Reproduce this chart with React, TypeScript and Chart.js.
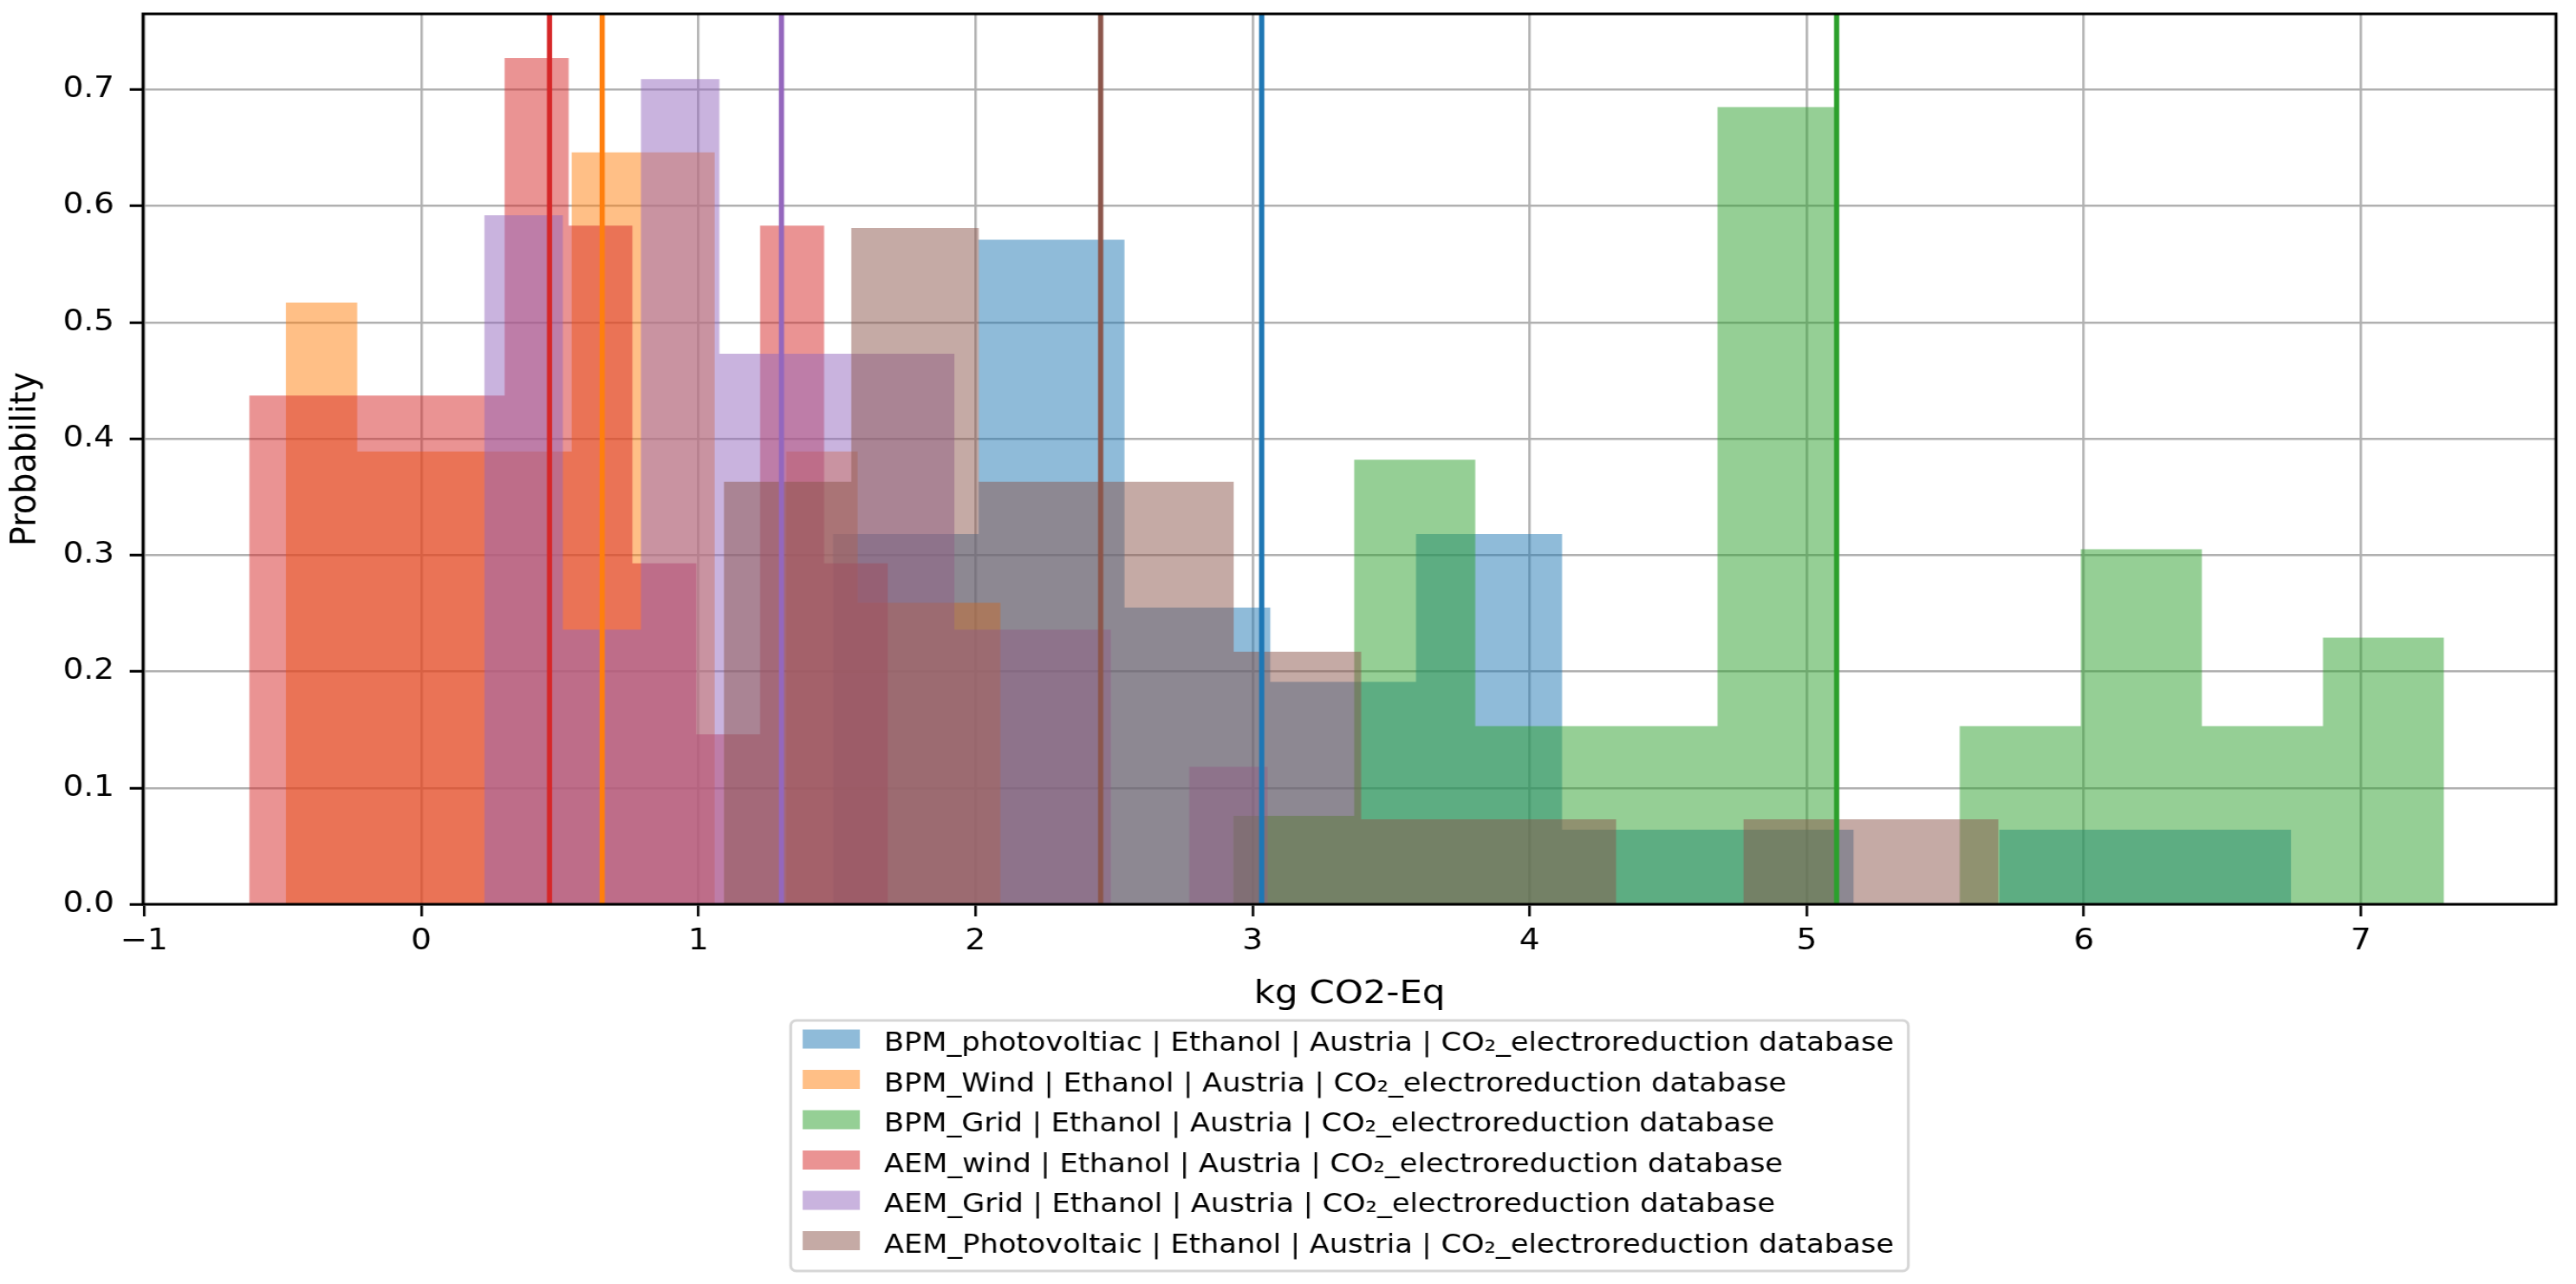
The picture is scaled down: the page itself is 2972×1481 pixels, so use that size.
import { useEffect, useRef } from 'react';
import { Chart, registerables } from 'chart.js';

Chart.register(...registerables);

// ---------- data ----------
const SERIES_LABELS = [
  'BPM_photovoltiac | Ethanol | Austria | CO\u2082_electroreduction database',
  'BPM_Wind | Ethanol | Austria | CO\u2082_electroreduction database',
  'BPM_Grid | Ethanol | Austria | CO\u2082_electroreduction database',
  'AEM_wind | Ethanol | Austria | CO\u2082_electroreduction database',
  'AEM_Grid | Ethanol | Austria | CO\u2082_electroreduction database',
  'AEM_Photovoltaic | Ethanol | Austria | CO\u2082_electroreduction database',
];
const SERIES_COLORS = ['#1f77b4', '#ff7f0e', '#2ca02c', '#d62728', '#9467bd', '#8c564b'];

const BPM_PV_EDGES = [1.485, 2.011, 2.538, 3.064, 3.590, 4.117, 4.643, 5.169, 5.695, 6.222, 6.748];
const BPM_PV_HEIGHTS = [0.318, 0.571, 0.255, 0.191, 0.318, 0.064, 0.064, 0, 0.064, 0.064];

const BPM_WIND_EDGES = [-0.489, -0.231, 0.027, 0.285, 0.543, 0.801, 1.059, 1.317, 1.575, 1.833, 2.091];
const BPM_WIND_HEIGHTS = [0.517, 0.389, 0.389, 0.389, 0.646, 0.646, 0, 0.389, 0.259, 0.259];

const BPM_GRID_EDGES = [2.930, 3.367, 3.804, 4.241, 4.678, 5.115, 5.552, 5.989, 6.426, 6.863, 7.300];
const BPM_GRID_HEIGHTS = [0.076, 0.382, 0.153, 0.153, 0.685, 0, 0.153, 0.305, 0.153, 0.229];

const AEM_WIND_EDGES = [-0.621, -0.391, -0.160, 0.071, 0.301, 0.532, 0.762, 0.993, 1.223, 1.454, 1.684];
const AEM_WIND_HEIGHTS = [0.437, 0.437, 0.437, 0.437, 0.727, 0.583, 0.293, 0.146, 0.583, 0.293];

const AEM_GRID_EDGES = [0.228, 0.511, 0.793, 1.076, 1.359, 1.641, 1.924, 2.207, 2.489, 2.772, 3.055];
const AEM_GRID_HEIGHTS = [0.592, 0.236, 0.709, 0.473, 0.473, 0.473, 0.236, 0.236, 0, 0.118];

const AEM_PV_EDGES = [1.092, 1.552, 2.012, 2.472, 2.932, 3.392, 3.852, 4.312, 4.772, 5.232, 5.692];
const AEM_PV_HEIGHTS = [0.363, 0.581, 0.363, 0.363, 0.217, 0.073, 0.073, 0, 0.073, 0.073];

const SERIES_EDGES = [BPM_PV_EDGES, BPM_WIND_EDGES, BPM_GRID_EDGES, AEM_WIND_EDGES, AEM_GRID_EDGES, AEM_PV_EDGES];
const SERIES_HEIGHTS = [BPM_PV_HEIGHTS, BPM_WIND_HEIGHTS, BPM_GRID_HEIGHTS, AEM_WIND_HEIGHTS, AEM_GRID_HEIGHTS, AEM_PV_HEIGHTS];

const SERIES_MEANS = [3.033, 0.653, 5.108, 0.463, 1.300, 2.452];

const X_TICKS = [-1, 0, 1, 2, 3, 4, 5, 6, 7];
const Y_TICKS = [0, 0.1, 0.2, 0.3, 0.4, 0.5, 0.6, 0.7];
const X_MIN = -1.004;
const X_MAX = 7.704;
const Y_MIN = 0;
const Y_MAX = 0.765;

const X_TITLE = 'kg CO2-Eq';
const Y_TITLE = 'Probability';

// ---------- layout / style ----------
const PAGE_W = 2972;
const PAGE_H = 1481;
const STRETCH = 1.1; // reference is horizontally stretched
const CANVAS_W = Math.round(PAGE_W / STRETCH);
const CANVAS_H = PAGE_H;
const FONT = '"DejaVu Sans", sans-serif';

function withAlpha(hex: string, a: number) {
  const r = parseInt(hex.slice(1, 3), 16);
  const g = parseInt(hex.slice(3, 5), 16);
  const b = parseInt(hex.slice(5, 7), 16);
  return `rgba(${r},${g},${b},${a})`;
}

const framePlugin = {
  id: 'mplFrame',
  afterDatasetsDraw(chart: any) {
    const { ctx, chartArea: a } = chart;
    ctx.save();
    ctx.strokeStyle = '#000';
    ctx.lineWidth = 3;
    ctx.strokeRect(a.left, a.top, a.right - a.left, a.bottom - a.top);
    ctx.restore();
  },
};

const legendPlugin = {
  id: 'mplLegend',
  afterDraw(chart: any) {
    const { ctx, chartArea: a } = chart;
    const items = chart.data.datasets.filter((d: any) => d.isHist);
    ctx.save();
    ctx.font = `30.6px ${FONT}`;
    const textW = Math.max(...items.map((d: any) => ctx.measureText(d.label).width));
    const padL = 12.5;
    const sw = 60;
    const gap = 25.5;
    const padR = 15;
    const boxW = padL + sw + gap + textW + padR;
    const cx = (a.left + a.right) / 2;
    const left = cx - boxW / 2;
    const top = 1177;
    const pitch = 46.5;
    const firstBase = 1212;
    const bottom = firstBase + (items.length - 1) * pitch + 21.5;
    ctx.beginPath();
    if (ctx.roundRect) ctx.roundRect(left, top, boxW, bottom - top, 6);
    else ctx.rect(left, top, boxW, bottom - top);
    ctx.fillStyle = 'rgba(255,255,255,0.8)';
    ctx.fill();
    ctx.lineWidth = 3;
    ctx.strokeStyle = 'rgba(204,204,204,0.8)';
    ctx.stroke();
    items.forEach((d: any, i: number) => {
      const base = firstBase + i * pitch;
      ctx.fillStyle = d.backgroundColor;
      ctx.fillRect(left + padL, base - 24.5, sw, 22);
      ctx.fillStyle = '#000';
      ctx.textAlign = 'left';
      ctx.textBaseline = 'alphabetic';
      ctx.fillText(d.label, left + padL + sw + gap, base);
    });
    ctx.restore();
  },
};

function zeroPadding(s: any) {
  s.paddingTop = 0;
  s.paddingBottom = 0;
  s.paddingLeft = 0;
  s.paddingRight = 0;
}

export default function App() {
  const ref = useRef<HTMLCanvasElement | null>(null);

  useEffect(() => {
    if (!ref.current) return;

    const histSets = SERIES_LABELS.map((label, i) => {
      const edges = SERIES_EDGES[i];
      const heights = SERIES_HEIGHTS[i];
      const pts = edges.map((e, k) => ({ x: e, y: heights[Math.min(k, heights.length - 1)] }));
      return {
        label,
        isHist: true,
        data: pts,
        stepped: 'before',
        fill: 'origin',
        backgroundColor: withAlpha(SERIES_COLORS[i], 0.5),
        borderColor: 'rgba(0,0,0,0)',
        borderWidth: 0,
        pointRadius: 0,
        order: 20 - i,
      };
    });

    const meanSets = SERIES_MEANS.map((m, i) => ({
      label: SERIES_LABELS[i] + ' mean',
      isHist: false,
      data: [
        { x: m, y: Y_MIN },
        { x: m, y: Y_MAX },
      ],
      fill: false,
      borderColor: SERIES_COLORS[i],
      borderWidth: 5.5,
      pointRadius: 0,
      order: 5 - i,
    }));

    const chart = new Chart(ref.current, {
      type: 'line',
      data: { datasets: [...histSets, ...meanSets] as any },
      plugins: [framePlugin, legendPlugin],
      options: {
        animation: false,
        responsive: false,
        devicePixelRatio: 1,
        events: [],
        layout: { padding: { left: 0, top: 16, right: 21, bottom: 0 } },
        plugins: { legend: { display: false }, tooltip: { enabled: false } },
        scales: {
          x: {
            type: 'linear',
            min: X_MIN,
            max: X_MAX,
            afterBuildTicks: (s: any) => {
              s.ticks = X_TICKS.map((value) => ({ value }));
            },
            afterFit: (s: any) => {
              s.height = CANVAS_H - 1043;
              zeroPadding(s);
            },
            ticks: {
              autoSkip: false,
              maxRotation: 0,
              padding: 9,
              color: '#000',
              font: { family: FONT, size: 34 },
              callback: (v: any) => (v < 0 ? '\u2212' + Math.abs(v) : String(v)),
            },
            grid: {
              color: '#b0b0b0',
              lineWidth: 2.5,
              drawTicks: true,
              tickLength: 14,
              tickColor: '#000',
              tickWidth: 2.7,
            },
            border: { display: false },
            title: {
              display: true,
              text: X_TITLE,
              color: '#000',
              font: { family: FONT, size: 38 },
              padding: { top: 0, bottom: 311.5 },
            },
          },
          y: {
            type: 'linear',
            min: Y_MIN,
            max: Y_MAX,
            afterBuildTicks: (s: any) => {
              s.ticks = Y_TICKS.map((value) => ({ value }));
            },
            afterFit: (s: any) => {
              s.width = 150;
              zeroPadding(s);
            },
            ticks: {
              padding: 16,
              color: '#000',
              font: { family: FONT, size: 34 },
              callback: (v: any) => Number(v).toFixed(1),
            },
            grid: {
              color: '#b0b0b0',
              lineWidth: 2.5,
              drawTicks: true,
              tickLength: 14,
              tickColor: '#000',
              tickWidth: 3,
            },
            border: { display: false },
            title: {
              display: true,
              text: Y_TITLE,
              color: '#000',
              font: { family: FONT, size: 38 },
              padding: { top: 4, bottom: 0 },
            },
          },
        },
      } as any,
    });

    return () => chart.destroy();
  }, []);

  return (
    <div style={{ position: 'fixed', left: 0, top: 0, width: PAGE_W, height: PAGE_H, background: '#fff' }}>
      <canvas
        ref={ref}
        width={CANVAS_W}
        height={CANVAS_H}
        style={{ width: PAGE_W + 'px', height: PAGE_H + 'px', display: 'block' }}
      />
    </div>
  );
}
